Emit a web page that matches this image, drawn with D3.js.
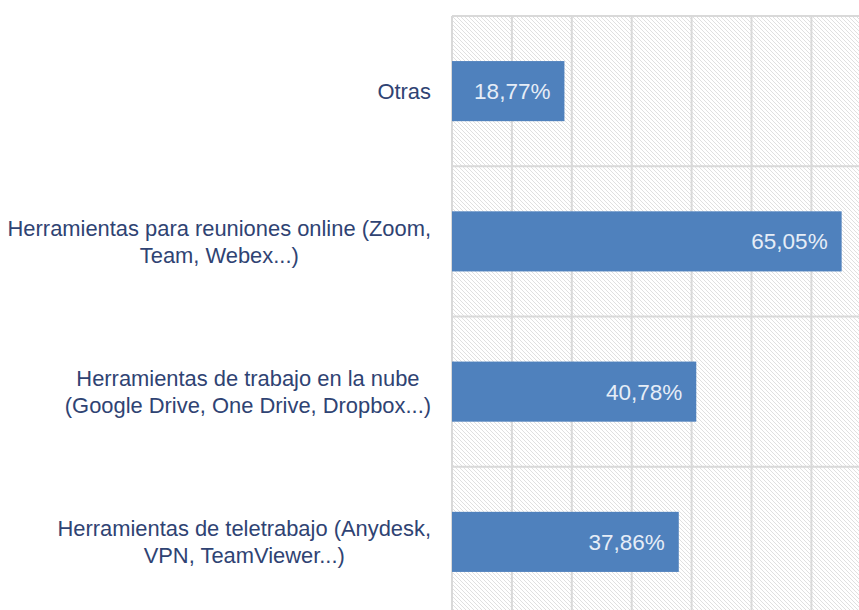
<!DOCTYPE html>
<html>
<head>
<meta charset="utf-8">
<script src="https://cdn.jsdelivr.net/npm/d3@7"></script>
<style>
  html, body { margin: 0; padding: 0; background: #fff; }
  svg { display: block; font-family: "Liberation Sans", Arial, sans-serif; }
</style>
</head>
<body>
<svg id="chart"></svg>
<script>
// categories, top to bottom (line breaks as in the source)
const categories = [
    'Otras',
    'Herramientas para reuniones online (Zoom,\nTeam, Webex...)',
    'Herramientas de trabajo en la nube\n(Google Drive, One Drive, Dropbox...)',
    'Herramientas de teletrabajo (Anydesk,\nVPN, TeamViewer...)'
];
const values = [18.77, 65.05, 40.78, 37.86];
const valueLabels = ['18,77%', '65,05%', '40,78%', '37,86%'];
const xTicks = [0, 10, 20, 30, 40, 50, 60, 70, 80, 90, 100];

const width = 859, height = 610;
const margin = { top: 16, left: 452 };
const innerW = 599, innerH = 601;

const svg = d3.select('#chart')
    .attr('width', width)
    .attr('height', height);

// diagonal hatch for the plot background
const defs = svg.append('defs');
const pat = defs.append('pattern')
    .attr('id', 'hatch')
    .attr('patternUnits', 'userSpaceOnUse')
    .attr('width', 4)
    .attr('height', 4);
pat.append('rect').attr('width', 4).attr('height', 4).attr('fill', '#fff');
pat.append('path')
    .attr('d', 'M-1,-1 L5,5 M-1,3 L1,5 M3,-1 L5,1')
    .attr('stroke', '#e0e0e0')
    .attr('stroke-width', 1);

const chart = svg.append('g')
    .attr('transform', `translate(${margin.left},${margin.top})`);

const xScale = d3.scaleLinear()
    .domain([0, 100])
    .range([0, innerW]);

const yScale = d3.scaleBand()
    .domain(categories)
    .range([0, innerH])
    .paddingInner(0.6)
    .paddingOuter(0.3);

chart.append('rect')
    .attr('width', innerW)
    .attr('height', innerH)
    .attr('fill', 'url(#hatch)');

// vertical gridlines
chart.append('g')
    .selectAll('line')
    .data(xTicks)
    .join('line')
    .attr('x1', d => xScale(d))
    .attr('x2', d => xScale(d))
    .attr('y1', 0)
    .attr('y2', innerH)
    .attr('stroke', '#d9d9d9')
    .attr('stroke-width', 2);

// horizontal lines between categories
const step = yScale.step();
chart.append('g')
    .selectAll('line')
    .data(d3.range(categories.length + 1))
    .join('line')
    .attr('x1', 0)
    .attr('x2', innerW)
    .attr('y1', i => i * step)
    .attr('y2', i => i * step)
    .attr('stroke', '#d9d9d9')
    .attr('stroke-width', 2);

// bars
chart.selectAll('.bar')
    .data(categories)
    .join('rect')
    .attr('class', 'bar')
    .attr('x', xScale(0))
    .attr('y', d => yScale(d))
    .attr('width', (d, i) => xScale(values[i]) - xScale(0))
    .attr('height', yScale.bandwidth())
    .attr('fill', '#4f81bd');

// value labels inside bar ends
chart.selectAll('.value')
    .data(categories)
    .join('text')
    .attr('class', 'value')
    .attr('x', (d, i) => xScale(values[i]) - 14)
    .attr('y', d => yScale(d) + yScale.bandwidth() / 2)
    .attr('dy', '0.35em')
    .attr('text-anchor', 'end')
    .attr('fill', '#e6edf7')
    .style('font-size', '22.5px')
    .text((d, i) => valueLabels[i]);

// category labels: block right-aligned, lines centred in the block
const labelRight = -21;
const lineH = 27;
categories.forEach(cat => {
    const lines = cat.split('\n');
    const g = chart.append('g');
    const cy = yScale(cat) + yScale.bandwidth() / 2;
    const texts = g.selectAll('text')
        .data(lines)
        .join('text')
        .attr('y', (d, i) => cy + (i - (lines.length - 1) / 2) * lineH)
        .attr('dy', '0.35em')
        .attr('text-anchor', 'middle')
        .attr('fill', '#2f4373')
        .style('font-size', '21.9px')
        .text(d => d);
    let maxW = 0;
    texts.each(function() { maxW = Math.max(maxW, this.getComputedTextLength()); });
    texts.attr('x', labelRight - maxW / 2);
});
</script>
</body>
</html>
